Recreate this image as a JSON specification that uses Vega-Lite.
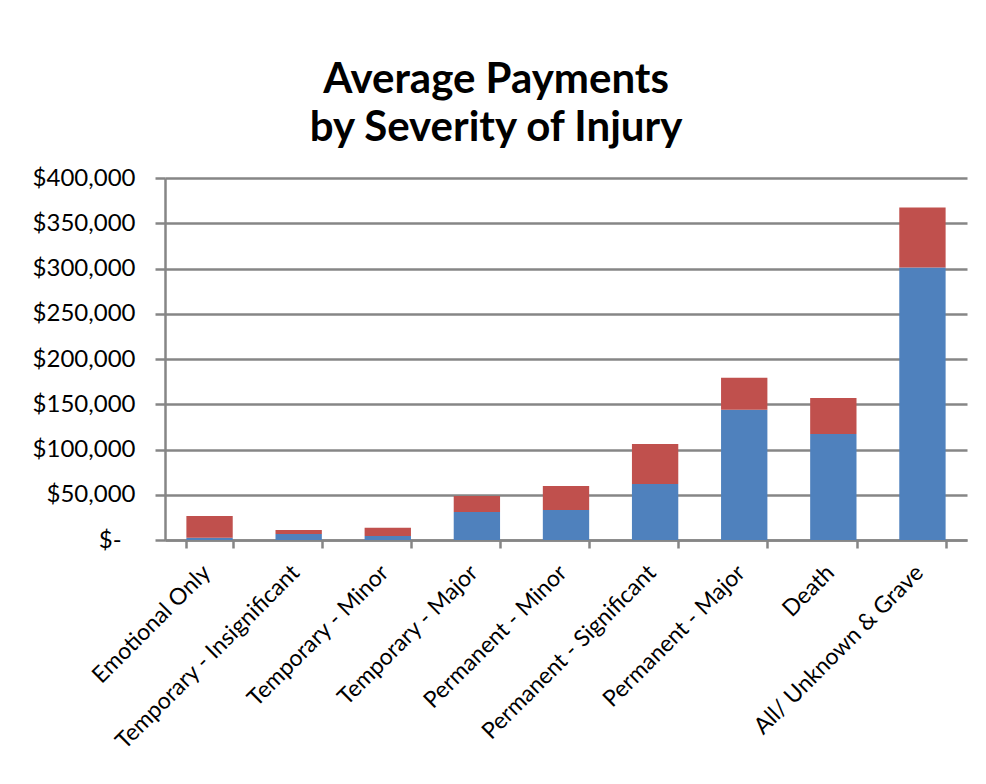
{
  "$schema": "https://vega.github.io/schema/vega-lite/v6.json",
  "width": 802,
  "height": 362,
  "autosize": {"type": "none"},
  "padding": {"left": 165, "top": 178, "right": 19, "bottom": 244},
  "background": "white",
  "title": {
    "text": ["Average Payments", "by Severity of Injury"],
    "font": "Lato",
    "fontSize": 42,
    "fontWeight": "bold",
    "color": "#000000",
    "anchor": "middle",
    "dx": -70,
    "offset": 16,
    "lineHeight": 48
  },
  "data": {
    "values": [
      {"category": "Emotional Only", "series": "Series1", "k": 1, "value": 2500},
      {"category": "Emotional Only", "series": "Series2", "k": 2, "value": 24000},
      {"category": "Temporary - Insignificant", "series": "Series1", "k": 1, "value": 6600},
      {"category": "Temporary - Insignificant", "series": "Series2", "k": 2, "value": 4500},
      {"category": "Temporary - Minor", "series": "Series1", "k": 1, "value": 4400},
      {"category": "Temporary - Minor", "series": "Series2", "k": 2, "value": 9000},
      {"category": "Temporary - Major", "series": "Series1", "k": 1, "value": 31000},
      {"category": "Temporary - Major", "series": "Series2", "k": 2, "value": 17700},
      {"category": "Permanent - Minor", "series": "Series1", "k": 1, "value": 33200},
      {"category": "Permanent - Minor", "series": "Series2", "k": 2, "value": 26500},
      {"category": "Permanent - Significant", "series": "Series1", "k": 1, "value": 62000},
      {"category": "Permanent - Significant", "series": "Series2", "k": 2, "value": 44000},
      {"category": "Permanent - Major", "series": "Series1", "k": 1, "value": 143800},
      {"category": "Permanent - Major", "series": "Series2", "k": 2, "value": 35400},
      {"category": "Death", "series": "Series1", "k": 1, "value": 117000},
      {"category": "Death", "series": "Series2", "k": 2, "value": 40000},
      {"category": "All/ Unknown & Grave", "series": "Series1", "k": 1, "value": 301000},
      {"category": "All/ Unknown & Grave", "series": "Series2", "k": 2, "value": 66500}
    ]
  },
  "mark": {"type": "bar"},
  "encoding": {
    "x": {
      "field": "category",
      "type": "nominal",
      "sort": null,
      "scale": {"paddingInner": 0.48, "paddingOuter": 0.24},
      "axis": {
        "title": null,
        "labelAngle": -45,
        "labelAlign": "right",
        "labelBaseline": "top",
        "labelFont": "Lato",
        "labelFontSize": 23,
        "labelColor": "#000000",
        "labelPadding": 13,
        "labelOffset": -11,
        "tickBand": "extent",
        "tickSize": 8,
        "tickWidth": 2.5,
        "tickColor": "#868686",
        "domainColor": "#868686",
        "domainWidth": 2.5,
        "labelOverlap": false,
        "labelLimit": 400
      }
    },
    "y": {
      "field": "value",
      "type": "quantitative",
      "stack": "zero",
      "scale": {"domain": [0, 400000], "nice": false},
      "axis": {
        "title": null,
        "values": [0, 50000, 100000, 150000, 200000, 250000, 300000, 350000, 400000],
        "labelExpr": "datum.value == 0 ? '$-\u2007\u200b' : '$' + format(datum.value, ',')",
        "labelFont": "Lato",
        "labelFontSize": 24,
        "labelColor": "#000000",
        "labelPadding": 20,
        "tickSize": 10,
        "tickWidth": 2.5,
        "tickColor": "#868686",
        "domainColor": "#868686",
        "domainWidth": 2.5,
        "grid": true,
        "gridColor": "#868686",
        "gridWidth": 2.5
      }
    },
    "color": {
      "field": "series",
      "type": "nominal",
      "scale": {"domain": ["Series1", "Series2"], "range": ["#4F81BD", "#C0504D"]},
      "legend": null
    },
    "order": {"field": "k", "type": "quantitative", "sort": "ascending"}
  },
  "config": {"view": {"stroke": null}}
}
